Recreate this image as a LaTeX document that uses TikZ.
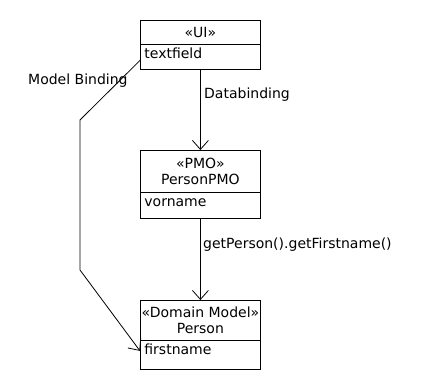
\documentclass[tikz,border=0pt]{standalone}
\usepackage{fontspec}
\setmainfont{DejaVu Sans}
\usetikzlibrary{arrows.meta}
\begin{document}
\begin{tikzpicture}[x=1pt,y=-1pt,
  every node/.style={font=\fontsize{14}{15.5}\selectfont, inner sep=0pt},
  cls/.style={draw, line width=0.8pt, minimum width=120pt, anchor=north west, align=center},
  attr/.style={draw, line width=0.8pt, minimum width=120pt, anchor=north west, text width=112pt, align=left, inner xsep=4pt, inner ysep=0pt, text height=14pt},
  conn/.style={draw, line width=0.8pt, -{Straight Barb[length=9pt,width=16pt,line width=0.8pt]}},
  lbl/.style={anchor=west}
]
\useasboundingbox (0,0) rectangle (430,390);
% UI
\node[cls, minimum height=24pt] (uititle) at (140,20) {«UI»};
\node[attr, text depth=11pt] (uiattr) at (140,44) {textfield};
% PMO
\node[cls, minimum height=42pt] (pmotitle) at (140,150) {«PMO»\\PersonPMO};
\node[attr, text depth=12pt] (pmoattr) at (140,192) {vorname};
% Domain
\node[cls, minimum height=40pt] (domtitle) at (140,300) {«Domain Model»\\Person};
\node[attr, text depth=15pt] (domattr) at (140,340) {firstname};
% connectors
\draw[conn] (uiattr.south) -- (pmotitle.north);
\draw[conn] (pmoattr.south) -- (domtitle.north);
\coordinate (b1) at (80,120);
\coordinate (b2) at (80,270);
\draw[conn] ([yshift=-3.5pt]uiattr.west) -- (b1) -- (b2) -- ([yshift=4pt]domattr.west);
% labels
\node[lbl] (l1) at (204,95) {Databinding};
\node[lbl] (l2) at (203,245) {getPerson().getFirstname()};
\node[lbl] (l3) at (28,81) {Model Binding};
\end{tikzpicture}
\end{document}
